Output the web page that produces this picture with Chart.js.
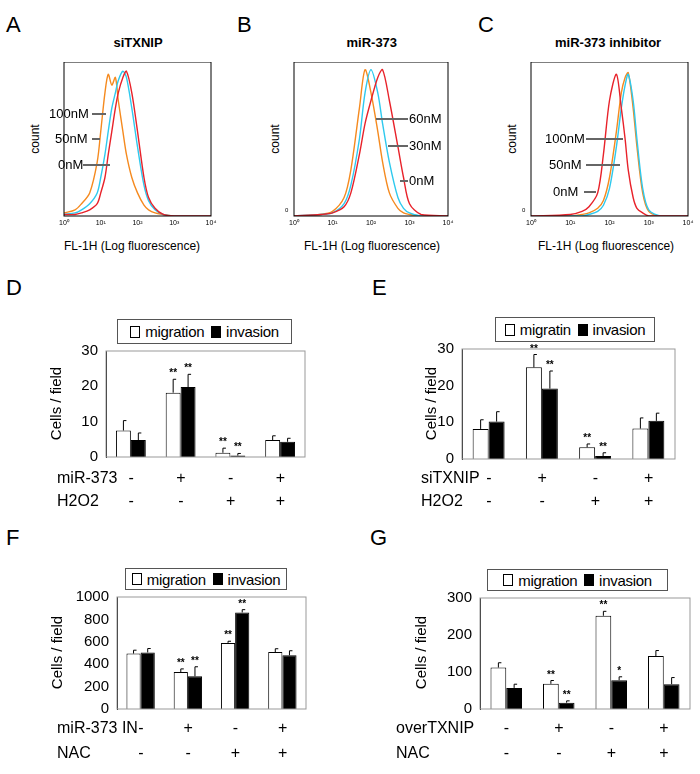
<!DOCTYPE html>
<html><head><meta charset="utf-8">
<script src="https://cdn.jsdelivr.net/npm/chart.js@4"></script>
<style>
body{margin:0;width:700px;height:774px;background:#fff;position:relative;font-family:Arial,"Liberation Sans",sans-serif;overflow:hidden}
.t{position:absolute;white-space:nowrap;color:#000;line-height:1}
canvas{position:absolute}
.lg{position:absolute;border:1.5px solid #555;background:#fff;font-size:15px;display:flex;align-items:center;justify-content:center;gap:3px;box-sizing:border-box;letter-spacing:-0.3px}
.sq{display:inline-block;width:10px;height:12px;border:1px solid #000;box-sizing:border-box;margin-right:2px}
.ln{position:absolute;height:1.5px;background:#666}
</style></head><body>
<script>
// ---------- DATA ----------
const histX_A=[1,2,3,5,8,10,13,16,20,25,30,40,50,70,100,150,200,300,500,1000,10000];
const histA_100=[2,4,8,15,35,55,80,92,85,90,75,55,40,25,15,7,4,2,1,0,0];
const histA_50=[1,2,4,8,15,25,40,55,70,80,88,94,90,70,45,20,10,4,1,0,0];
const histA_0=[1,1,2,4,8,15,25,40,55,70,80,90,94,80,55,25,12,5,1,0,0];
const histX_B=[1,5,10,20,30,50,70,100,150,200,300,500,700,1000,2000,10000];
const histB_60=[0,1,3,12,30,70,95,80,55,35,15,5,2,1,0,0];
const histB_30=[0,1,2,8,20,50,80,95,80,60,35,12,5,2,0,0];
const histB_0=[0,1,2,6,15,40,60,75,90,95,75,45,25,8,1,0];
const histX_C=[1,10,20,30,50,70,100,150,200,250,300,400,500,700,1000,2000,10000];
const histC_100=[0,1,3,6,15,40,75,92,70,50,30,12,5,2,0,0,0];
const histC_50=[0,0,1,2,5,10,25,55,80,90,93,70,45,15,3,0,0];
const histC_0=[0,0,0,1,3,7,18,45,70,85,92,75,50,18,4,0,0];

const groups=['1','2','3','4'];
const D_mig=[7.5,18.2,1.2,4.8], D_migErr=[2.8,3.8,1.3,1.2], D_inv=[4.8,19.8,0.4,4.3], D_invErr=[2.0,3.6,0.6,1.0];
const D_migStars=['','**','**',''], D_invStars=['','**','**',''];
const E_mig=[8.2,25,3.2,8.3], E_migErr=[2.5,3.5,0.9,2.9], E_inv=[10.2,19.2,0.8,10.4], E_invErr=[2.7,4.8,0.9,2.1];
const E_migStars=['','**','**',''], E_invStars=['','**','**',''];
const F_mig=[495,330,590,508], F_migErr=[30,28,15,30], F_inv=[505,292,862,480], F_invErr=[35,85,25,40];
const F_migStars=['','**','**',''], F_invStars=['','**','**',''];
const G_mig=[112,68,252,143], G_migErr=[13,9,12,15], G_inv=[57,17,78,67], G_invErr=[10,5,9,18];
const G_migStars=['','**','**',''], G_invStars=['','**','*',''];
const rowA_D=['-','+','-','+'], rowB_D=['-','-','+','+'];

// ---------- helpers ----------
function txt(s,x,y,size,extra){const d=document.createElement('div');d.className='t';d.textContent=s;d.style.left=x+'px';d.style.top=y+'px';d.style.fontSize=size+'px';if(extra)Object.assign(d.style,extra);document.body.appendChild(d);return d;}
function ctxt(s,cx,y,size,extra){const d=txt(s,0,y,size,extra);d.style.left=(cx-d.offsetWidth/2)+'px';return d;}
function line(x1,x2,y){const d=document.createElement('div');d.className='ln';d.style.left=x1+'px';d.style.width=(x2-x1)+'px';d.style.top=y+'px';document.body.appendChild(d);}
function canvas(l,t,w,h){const c=document.createElement('canvas');c.style.left=l+'px';c.style.top=t+'px';c.style.width=w+'px';c.style.height=h+'px';c.width=w;c.height=h;document.body.appendChild(c);return c;}
const borderPlug={id:'bp',afterDraw(ch,a,o){const c=ch.ctx,ar=ch.chartArea;c.save();c.strokeStyle=o.color||'#000';c.lineWidth=o.width||1.2;c.strokeRect(ar.left,ar.top,ar.right-ar.left,ar.bottom-ar.top);c.restore();}};
const sup={1:'10⁰',10:'10¹',100:'10²',1000:'10³',10000:'10⁴'};

function hist(box,xs,series){
  const c=canvas(box.x-10,box.y,box.w+20,box.h+14);
  new Chart(c,{type:'scatter',data:{datasets:series.map(s=>({data:xs.map((x,i)=>({x,y:s.d[i]})),showLine:true,borderColor:s.c,borderWidth:1.4,pointRadius:0,tension:0.3}))},
  options:{animation:false,responsive:false,layout:{padding:{left:10,right:10,top:0,bottom:0}},plugins:{legend:{display:false},tooltip:{enabled:false},bp:{color:'#000',width:1}},
  scales:{x:{type:'logarithmic',min:1,max:10000,afterFit(s){s.height=14},grid:{display:false,drawTicks:true,tickLength:3},border:{display:false},
     afterBuildTicks(s){const t=[];for(let e=0;e<4;e++)for(let m=1;m<10;m++)t.push({value:m*Math.pow(10,e)});t.push({value:10000});s.ticks=t;},
     ticks:{autoSkip:false,maxRotation:0,padding:0,font:{size:7},color:'#000',callback:(v)=>sup[v]||''}},
   y:{display:false,min:0,max:100}}},plugins:[borderPlug]});
}

const barPlug={id:'eb',afterDatasetsDraw(ch){const c=ch.ctx;c.save();c.strokeStyle='#000';c.lineWidth=1;c.fillStyle='#000';c.font='bold 10px Arial';c.textAlign='center';
  ch.data.datasets.forEach((ds,di)=>{const m=ch.getDatasetMeta(di);m.data.forEach((b,i)=>{const y=ch.scales.y;const top=y.getPixelForValue(ds.data[i]+ds.err[i]);
   c.beginPath();c.moveTo(b.x,b.y);c.lineTo(b.x,top);c.moveTo(b.x,top);c.lineTo(b.x+3,top);c.stroke();
   if(ds.stars[i])c.fillText(ds.stars[i],b.x,top-3);});});c.restore();}};

function bars(box,max,step,mig,migE,inv,invE,ms,is){
  const c=canvas(box.x-48,box.y-10,box.w+53,box.h+20);
  new Chart(c,{type:'bar',data:{labels:groups,datasets:[
    {data:mig,err:migE,stars:ms,backgroundColor:'#fff',borderColor:'#000',borderWidth:1,categoryPercentage:0.6,barPercentage:1},
    {data:inv,err:invE,stars:is,backgroundColor:'#000',borderColor:'#000',borderWidth:1,categoryPercentage:0.6,barPercentage:1}]},
  options:{animation:false,responsive:false,layout:{padding:{top:10,bottom:10,right:5,left:0}},plugins:{legend:{display:false},tooltip:{enabled:false},bp:{color:'#999',width:1}},
   scales:{x:{display:false},y:{min:0,max:max,afterFit(s){s.width=48},grid:{display:false,drawTicks:true,tickLength:4},border:{color:'#000',width:1},
     ticks:{stepSize:step,color:'#000',font:{size:15,family:'Arial'},padding:4,callback:(v)=>String(v)}}}},plugins:[borderPlug,barPlug]});
}
function legend(x,y,w,h,a){const d=document.createElement('div');d.className='lg';Object.assign(d.style,{left:x+'px',top:y+'px',width:w+'px',height:h+'px'});
  d.innerHTML='<span class="sq"></span>'+a+'&nbsp;<span class="sq" style="background:#000"></span>invasion';document.body.appendChild(d);}

// ---------- top panels ----------
txt('A',6,14,22);txt('B',237,14,22);txt('C',478,14,22);
ctxt('siTXNIP',138,36,13,{fontWeight:'bold'});ctxt('miR-373',372,36,13,{fontWeight:'bold'});ctxt('miR-373 inhibitor',608,36,13,{fontWeight:'bold'});
const bA={x:64,y:62,w:147,h:154},bB={x:294,y:62,w:154,h:154},bC={x:531,y:62,w:157,h:154};
hist(bA,histX_A,[{d:histA_0,c:'#e8222a'},{d:histA_50,c:'#2ec9ee'},{d:histA_100,c:'#f58a1f'}]);
hist(bB,histX_B,[{d:histB_0,c:'#e8222a'},{d:histB_30,c:'#2ec9ee'},{d:histB_60,c:'#f58a1f'}]);
hist(bC,histX_C,[{d:histC_100,c:'#e8222a'},{d:histC_0,c:'#2ec9ee'},{d:histC_50,c:'#f58a1f'}]);
[38,278,515].forEach(x=>{txt('count',x-18,133,12,{transform:'rotate(-90deg)'});});
ctxt('FL-1H (Log fluorescence)',132,240,12);ctxt('FL-1H (Log fluorescence)',372,240,12);ctxt('FL-1H (Log fluorescence)',606,240,12);
txt('0',285,207,6);txt('0',522,207,6);
txt('100nM',49,107,13);txt('50nM',55,132,13);txt('0nM',58,158,13);
line(92,106,113);line(92,100,138);line(83,110,164);
txt('60nM',409,112,13);txt('30nM',409,139,13);txt('0nM',409,174,13);
line(376,408,118);line(388,408,145);line(400,408,180);
txt('100nM',545,132,13);txt('50nM',549,158,13);txt('0nM',553,185,13);
line(586,623,138);line(586,620,164);line(584,596,191);

// ---------- bar panels ----------
txt('D',6,277,22);txt('E',372,277,22);txt('F',6,527,22);txt('G',370,527,22);
const bD={x:106,y:348,w:199,h:112},bE={x:462,y:346,w:213,h:116},bF={x:117,y:594,w:189,h:118},bG={x:480,y:595,w:210,h:117};
bars(bD,30,10,D_mig,D_migErr,D_inv,D_invErr,D_migStars,D_invStars);
bars(bE,30,10,E_mig,E_migErr,E_inv,E_invErr,E_migStars,E_invStars);
bars(bF,1000,200,F_mig,F_migErr,F_inv,F_invErr,F_migStars,F_invStars);
bars(bG,300,100,G_mig,G_migErr,G_inv,G_invErr,G_migStars,G_invStars);
legend(117,319,175,25,'migration');legend(495,317,160,25,'migratin');legend(125,568,162,22,'migration');legend(487,569,181,22,'migration');
function ylab(x,cy){const d=txt('Cells / field',0,0,15);d.style.left=(x-d.offsetWidth/2)+'px';d.style.top=(cy-8)+'px';d.style.transform='rotate(-90deg)';}
ylab(55,404);ylab(430,404);ylab(56,653);ylab(420,653);
function rows(box,nA,nB,yA,yB,labX){txt(nA,labX,yA-9,16);txt(nB,labX,yB-9,16);const cw=box.w/4;
  for(let i=0;i<4;i++){const cx=box.x+cw*(i+0.5);ctxt(rowA_D[i],cx,yA-9,16);ctxt(rowB_D[i],cx,yB-9,16);}}
rows(bD,'miR-373','H2O2',479,502,57);
rows(bE,'siTXNIP','H2O2',479,502,421);
rows(bF,'miR-373 IN','NAC',729,754,57);
rows(bG,'overTXNIP','NAC',729,754,396);
</script></body></html>
